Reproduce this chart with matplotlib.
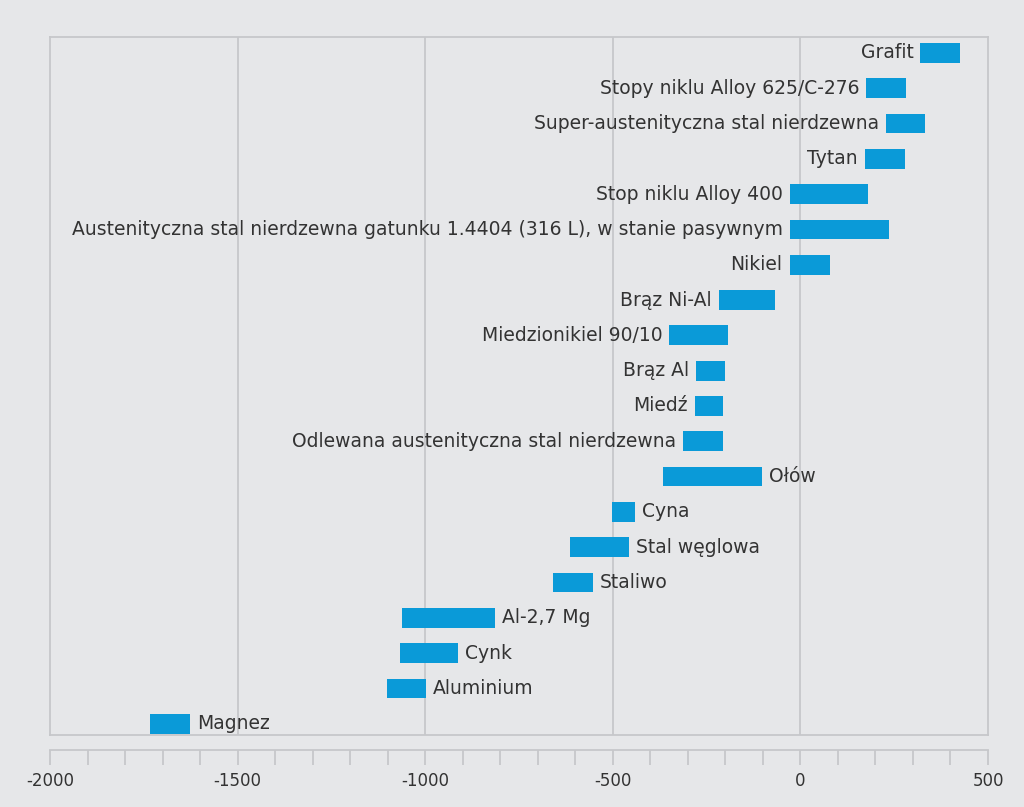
import matplotlib
matplotlib.use("Agg")
import matplotlib.pyplot as plt
import numpy as np

# Galvanic series: potential range of each material (mV)
materials = [
    "Grafit",
    "Stopy niklu Alloy 625/C-276",
    "Super-austenityczna stal nierdzewna",
    "Tytan",
    "Stop niklu Alloy 400",
    "Austenityczna stal nierdzewna gatunku 1.4404 (316 L), w stanie pasywnym",
    "Nikiel",
    "Brąz Ni-Al",
    "Miedzionikiel 90/10",
    "Brąz Al",
    "Miedź",
    "Odlewana austenityczna stal nierdzewna",
    "Ołów",
    "Cyna",
    "Stal węglowa",
    "Staliwo",
    "Al-2,7 Mg",
    "Cynk",
    "Aluminium",
    "Magnez",
]
low = [320, 175, 227, 171, -29, -29, -29, -218, -349, -278, -282, -313,
       -367, -502, -613, -660, -1062, -1068, -1103, -1733]
high = [425, 282, 333, 278, 180, 236, 79, -67, -194, -202, -205, -205,
        -102, -441, -458, -553, -815, -913, -997, -1626]
label_right = {"Ołów", "Cyna", "Stal węglowa", "Staliwo", "Al-2,7 Mg",
               "Cynk", "Aluminium", "Magnez"}

BG = "#e6e7e9"
GRID = "#c6c7ca"
BAR = "#0a9ad8"
TXT = "#333333"
FONT = ["Liberation Sans Narrow", "DejaVu Sans"]

W, H = 1024, 807
fig = plt.figure(figsize=(W / 100, H / 100), dpi=100, facecolor=BG)

ax = fig.add_axes([50 / W, (H - 735) / H, 938 / W, 698 / H])
ax.set_facecolor(BG)
y = np.arange(len(materials))
widths = np.array(high) - np.array(low)
ax.barh(y, widths, left=low, height=0.56, color=BAR, zorder=3)

for i, name in enumerate(materials):
    if name in label_right:
        ax.annotate(name, (high[i], y[i]), xytext=(5, 0), textcoords="offset points",
                    ha="left", va="center", fontsize=13.5, color=TXT, family=FONT)
    else:
        ax.annotate(name, (low[i], y[i]), xytext=(-5, 0), textcoords="offset points",
                    ha="right", va="center", fontsize=13.5, color=TXT, family=FONT)

ax.set_xlim(-2000, 500)
ax.set_ylim(19.32, -0.45)
ax.set_xticks([-1500, -1000, -500, 0])
ax.set_yticks([])
ax.grid(axis="x", color=GRID, linewidth=1.3, zorder=0)
ax.tick_params(axis="x", length=0, labelbottom=False)
for s in ax.spines.values():
    s.set_color(GRID)
    s.set_linewidth(1.3)

# separate scale axis below the plot box
sc = fig.add_axes([50 / W, (H - 750) / H, 938 / W, 0])
sc.set_facecolor("none")
sc.set_xlim(-2000, 500)
sc.set_yticks([])
for k in ["left", "right", "bottom"]:
    sc.spines[k].set_visible(False)
sc.spines["top"].set_color(GRID)
sc.spines["top"].set_linewidth(1.3)
sc.set_xticks(np.arange(-2000, 501, 500))
sc.set_xticklabels([str(v) for v in np.arange(-2000, 501, 500)], family=FONT,
                   fontsize=12, color=TXT)
sc.set_xticks(np.arange(-2000, 501, 100), minor=True)
sc.tick_params(axis="x", which="both", direction="out", length=11, width=1.3,
               color=GRID, pad=5)

fig.savefig("out.png", dpi=100, facecolor=BG)
